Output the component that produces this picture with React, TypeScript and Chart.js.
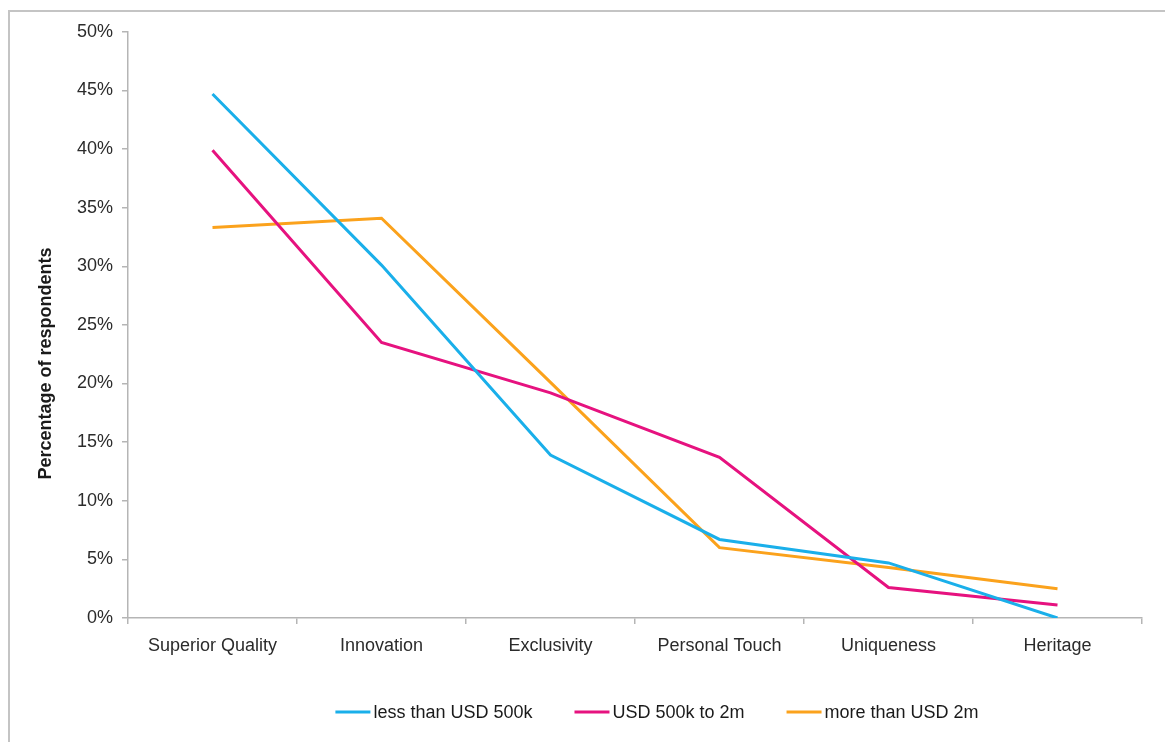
import React, { useEffect, useRef } from "react";
import { Chart, registerables } from "chart.js";

Chart.register(...registerables);

const categories = [
  "Superior Quality",
  "Innovation",
  "Exclusivity",
  "Personal Touch",
  "Uniqueness",
  "Heritage",
];

const seriesNames = ["less than USD 500k", "USD 500k to 2m", "more than USD 2m"];
const under500k = [44.7, 30.1, 13.9, 6.7, 4.7, 0];
const from500kTo2m = [39.9, 23.5, 19.2, 13.7, 2.6, 1.1];
const over2m = [33.3, 34.1, 20.1, 6.0, 4.3, 2.5];
const seriesColors = ["#1AAFEA", "#E6127F", "#FBA21C"];

const yAxisTitle = "Percentage of respondents";
const FONT = "'Liberation Sans', Arial, sans-serif";

// Legend (line swatch + label) centred below the plot, and the rotated y-axis title.
const annotations = {
  id: "annotations",
  afterDraw(chart: any) {
    const { ctx, chartArea } = chart;
    ctx.save();

    // y-axis title
    ctx.font = `bold 18px ${FONT}`;
    ctx.fillStyle = "#1a1a1a";
    ctx.textAlign = "center";
    ctx.textBaseline = "middle";
    ctx.translate(chartArea.left - 82, chartArea.top + (chartArea.bottom - chartArea.top) * 0.566);
    ctx.rotate(-Math.PI / 2);
    ctx.fillText(yAxisTitle, 0, 0);
    ctx.setTransform(1, 0, 0, 1, 0, 0);

    // legend
    const swatch = 35;
    const gapText = 3;
    const gapItem = 42;
    ctx.font = `18px ${FONT}`;
    const items = chart.data.datasets.map((ds: any) => ({
      label: ds.label,
      color: ds.borderColor,
      w: ctx.measureText(ds.label).width,
    }));
    const total =
      items.reduce((s: number, it: any) => s + swatch + gapText + it.w, 0) +
      gapItem * (items.length - 1);
    const cx = (chartArea.left + chartArea.right) / 2 + 22;
    const y = chartArea.bottom + 94;
    let x = cx - total / 2;
    ctx.textAlign = "left";
    ctx.textBaseline = "middle";
    for (const it of items) {
      ctx.strokeStyle = it.color;
      ctx.lineWidth = 3;
      ctx.beginPath();
      ctx.moveTo(x, y);
      ctx.lineTo(x + swatch, y);
      ctx.stroke();
      x += swatch + gapText;
      ctx.fillStyle = "#1a1a1a";
      ctx.fillText(it.label, x, y + 1);
      x += it.w + gapItem;
    }
    ctx.restore();
  },
};

export default function App() {
  const canvasRef = useRef<HTMLCanvasElement>(null);

  useEffect(() => {
    if (!canvasRef.current) return;
    const values = [under500k, from500kTo2m, over2m];
    const chart = new Chart(canvasRef.current, {
      type: "line",
      data: {
        labels: categories,
        datasets: values.map((data, i) => ({
          label: seriesNames[i],
          data,
          borderColor: seriesColors[i],
          backgroundColor: seriesColors[i],
          borderWidth: 3,
          pointRadius: 0,
          pointHoverRadius: 0,
          tension: 0,
          fill: false,
        })),
      },
      options: {
        responsive: false,
        animation: false,
        layout: { padding: { top: 17, right: 23, bottom: 84, left: 0 } },
        plugins: {
          legend: { display: false },
          tooltip: { enabled: false },
        },
        scales: {
          x: {
            type: "category",
            offset: true,
            afterFit: (scale: any) => {
              scale.height = 40;
            },
            grid: {
              offset: true,
              drawOnChartArea: false,
              drawTicks: true,
              tickLength: 6,
              color: "#b5b5b5",
              lineWidth: 1.5,
            },
            border: { color: "#b5b5b5", width: 1.5 },
            ticks: {
              color: "#2b2b2b",
              font: { family: FONT, size: 18 },
              padding: 11,
              maxRotation: 0,
              autoSkip: false,
            },
          },
          y: {
            min: 0,
            max: 50,
            afterFit: (scale: any) => {
              scale.width = 118;
            },
            grid: {
              drawOnChartArea: false,
              drawTicks: true,
              tickLength: 6,
              color: "#b5b5b5",
              lineWidth: 1.5,
            },
            border: { color: "#b5b5b5", width: 1.5 },
            ticks: {
              stepSize: 5,
              color: "#2b2b2b",
              font: { family: FONT, size: 18 },
              padding: 9,
              callback: (v: any) => `${v}%`,
            },
          },
        },
      },
      plugins: [annotations],
    });
    return () => chart.destroy();
  }, []);

  return (
    <div style={{ position: "fixed", inset: 0, overflow: "hidden", background: "#fff" }}>
      <div
        style={{
          position: "absolute",
          left: 8,
          top: 10,
          width: 1160,
          height: 760,
          border: "2px solid #c4c4c4",
          background: "#fff",
        }}
      >
        <canvas ref={canvasRef} width={1155} height={730} style={{ display: "block" }} />
      </div>
    </div>
  );
}
